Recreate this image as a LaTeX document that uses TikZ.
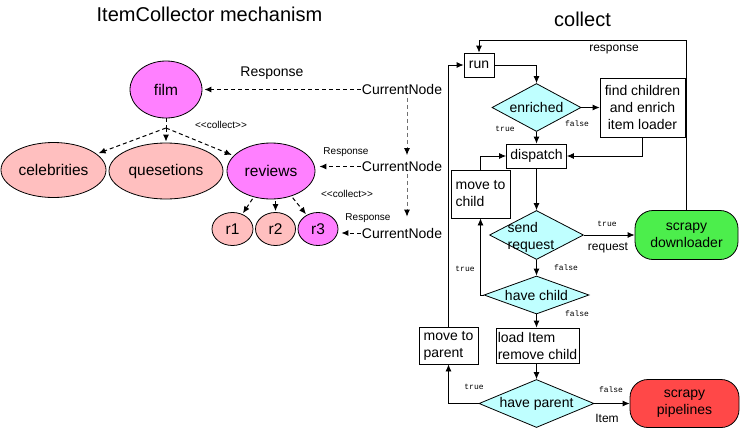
\documentclass[tikz,border=0pt]{standalone}
\usepackage{fontspec}
\setmainfont{Liberation Sans}
\newfontfamily\lmono{Liberation Mono}
\usetikzlibrary{shapes.geometric,arrows.meta,calc}
\definecolor{magc}{HTML}{FF80FF}
\definecolor{pinkc}{HTML}{FFBFBF}
\definecolor{cyanc}{HTML}{BFFFFF}
\definecolor{greenc}{HTML}{4CEE4C}
\definecolor{redc}{HTML}{FF4848}
\definecolor{dgray}{HTML}{707070}
\begin{document}
\begin{tikzpicture}[x=1pt,y=-1pt,
  every node/.style={inner sep=0pt},
  ftitle/.style={font=\fontsize{20}{24}\selectfont},
  fbig/.style={font=\fontsize{15.5}{18}\selectfont},
  ftxt/.style={font=\fontsize{14}{17}\selectfont},
  fmid/.style={font=\fontsize{12}{14}\selectfont},
  fsmall/.style={font=\fontsize{10}{12}\selectfont},
  ftiny/.style={font=\fontsize{10}{12}\selectfont},
  fmono/.style={font=\lmono\fontsize{8}{10}\selectfont},
  ell/.style={ellipse, draw, line width=0.8pt, fbig},
  box/.style={draw, line width=0.8pt, ftxt, align=left},
  dia/.style={diamond, draw, fill=cyanc, line width=0.8pt},
  pill/.style={draw, rounded corners=18pt, line width=0.8pt, ftxt, align=center},
  flow/.style={line width=0.8pt, -{Latex[length=7pt,width=6pt]}},
  dasharr/.style={line width=1pt, dash pattern=on 4pt off 3pt, -{Latex[length=7pt,width=6pt]}},
  dashline/.style={line width=1pt, dash pattern=on 4pt off 3pt},
  grayarr/.style={line width=1pt, dash pattern=on 4pt off 3pt, draw=dgray, -{Latex[length=7pt,width=6pt,color=black]}},
]
\fill[white] (0,0) rectangle (740,429);
\useasboundingbox (0,0) rectangle (740,429);

% titles
\node[ftitle] (t1) at (209.5,14) {ItemCollector mechanism};
\node[ftitle] (t2) at (582.5,19) {collect};

% left tree
\node[ell, fill=magc, minimum width=72pt, minimum height=57pt] (film) at (166,89.5) {film};
\node[ell, fill=pinkc, minimum width=105pt, minimum height=55pt] (celeb) at (53.5,170) {celebrities};
\node[ell, fill=pinkc, minimum width=114pt, minimum height=56pt] (ques) at (166,171) {quesetions};
\node[ell, fill=magc, minimum width=88pt, minimum height=56pt] (rev) at (271,171) {reviews};
\node[ell, fill=pinkc, minimum width=41pt, minimum height=33pt] (r1) at (232.5,229) {r1};
\node[ell, fill=pinkc, minimum width=40pt, minimum height=33pt] (r2) at (275.5,229) {r2};
\node[ell, fill=magc, minimum width=40pt, minimum height=33pt] (r3) at (318,229) {r3};

\coordinate (fj) at (166,128);
\draw[dashline] (film.south) -- (fj);
\draw[dasharr, shorten >=2pt] (fj) -- (celeb);
\draw[dasharr, shorten >=1pt] (fj) -- (ques);
\draw[dasharr, shorten >=2pt] (fj) -- (rev);
\draw[dasharr, shorten <=2pt, shorten >=1pt] (rev) -- (r1);
\draw[dasharr, shorten <=2pt, shorten >=1pt] (rev.south -| r2.north) -- (r2.north);
\draw[dasharr, shorten <=2pt, shorten >=1pt] (rev) -- (r3);

\node[ftiny] (col1) at (221,125) {<\kern0pt<collect>\kern0pt>};
\node[ftiny] (col2) at (347,194) {<\kern0pt<collect>\kern0pt>};

% current nodes
\node[ftxt] (cn1) at (402,89.5) {CurrentNode};
\node[ftxt] (cn2) at (402,166.5) {CurrentNode};
\node[ftxt] (cn3) at (402,233) {CurrentNode};
\node[ftxt] (resp1) at (272,73) {Response};
\node[fsmall] (resp2) at (346,152) {Response};
\node[fsmall] (resp3) at (368,218) {Response};

\draw[dasharr, shorten <=1pt, shorten >=2pt] (cn1) -- (film);
\draw[dasharr, shorten <=1pt, shorten >=4pt] (cn2.west) -- (cn2.west -| rev.east);
\draw[dasharr, shorten <=1pt, shorten >=3pt] (cn3.west) -- (cn3.west -| r3.east);
\draw[grayarr, shorten <=3pt, shorten >=6pt] ([xshift=5pt]cn1.south) -- ([xshift=5pt]cn2.north);
\draw[grayarr, shorten <=2pt, shorten >=11pt] ([xshift=5pt]cn2.south) -- ([xshift=5pt]cn3.north);

% flowchart
\node[box, minimum width=30pt, minimum height=24pt, align=center] (run) at (479,65) {run};
\node[dia, minimum width=89pt, minimum height=48pt, label={[ftxt]center:enriched}] (enr) at (536.5,107.5) {};
\node[box, minimum width=85pt, minimum height=59pt, align=center] (find) at (642.5,107.5) {find children\\and enrich\\item loader};
\node[box, minimum width=60pt, minimum height=24pt, align=center] (disp) at (536.5,156) {dispatch};
\node[box, minimum width=59pt, minimum height=48pt] (mchild) at (480.5,194) {move to\\child};
\node[dia, minimum width=94pt, minimum height=49pt] (send) at (536.5,235) {};
\node[ftxt, align=left] (sendT) at (531,237) {send\\request};
\node[pill, fill=greenc, minimum width=103pt, minimum height=49pt] (dl) at (686.5,235) {scrapy\\downloader};
\node[dia, minimum width=105pt, minimum height=38pt, label={[ftxt]center:have child}] (hchild) at (536.5,295) {};
\node[box, minimum width=83pt, minimum height=35pt] (load) at (537.5,345.5) {load Item\\remove child};
\node[box, minimum width=59pt, minimum height=37pt] (mparent) at (448.5,345.5) {move to\\parent};
\node[dia, minimum width=115pt, minimum height=48pt, label={[ftxt]center:have parent}] (hparent) at (536.5,403.5) {};
\node[pill, fill=redc, minimum width=109pt, minimum height=48pt] (pipe) at (684.5,403.5) {scrapy\\pipelines};

\coordinate (rtop) at (686.5,40);
\draw[flow] (dl.north) -- (rtop) -| (run.north);
\node[fmid] (resplbl) at (614,50) {response};
\draw[flow] (run.east) -| (enr.north);
\draw[flow] (enr.east) -- (enr.east -| find.west);
\draw[flow] (enr.south) -- (disp.north);
\draw[flow] (find.south) |- (disp.east);
\draw[flow] (mchild.north) |- (disp.west);
\draw[flow] (disp.south) -- (send.north);
\draw[flow] (send.east) -- (dl.west);
\draw[flow] (send.south) -- (hchild.north);
\draw[flow] (hchild.west) -| (mchild.south);
\draw[flow] (hchild.south) -- (hchild.south |- load.north);
\draw[flow] (load.south -| hparent.north) -- (hparent.north);
\draw[flow] (hparent.west) -| (mparent.south);
\draw[flow] (hparent.east) -- (pipe.west);
\draw[flow] (mparent.north) |- (run.west);

% small labels
\node[fmono] (l1) at (505,129) {true};
\node[fmono] (l2) at (577,124) {false};
\node[fmono] (l3) at (607,224) {true};
\node[fmid] (l4) at (608,248) {request};
\node[fmono] (l5) at (566,268) {false};
\node[fmono] (l6) at (465,269) {true};
\node[fmono] (l7) at (577,314) {false};
\node[fmono] (l8) at (474,387) {true};
\node[fmono] (l9) at (611,390) {false};
\node[fmid] (l10) at (607,418) {Item};
\end{tikzpicture}
\end{document}
